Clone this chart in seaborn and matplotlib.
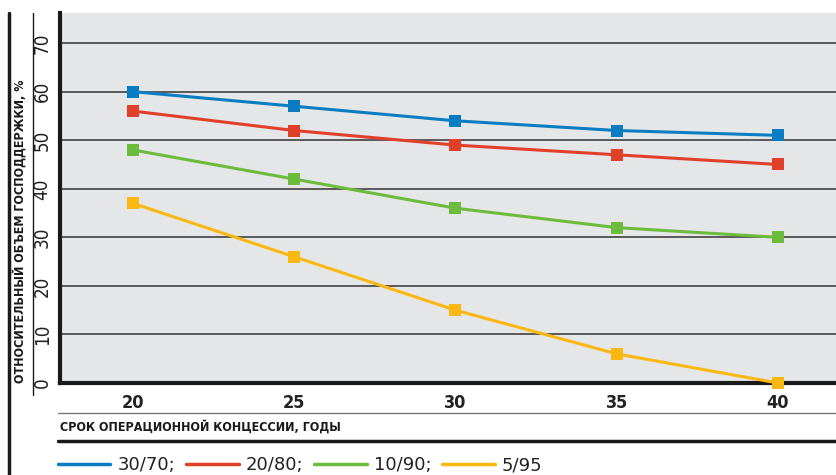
import pandas as pd
import matplotlib.pyplot as plt
import seaborn as sns
from matplotlib.lines import Line2D

# data
years = [20, 25, 30, 35, 40]
s_30_70 = [60, 57, 54, 52, 51]
s_20_80 = [56, 52, 49, 47, 45]
s_10_90 = [48, 42, 36, 32, 30]
s_5_95 = [37, 26, 15, 6, 0]
series_names = ['30/70', '20/80', '10/90', '5/95']
legend_labels = ['30/70;', '20/80;', '10/90;', '5/95']
colors = ['#0a7dc2', '#e0402a', '#6dbb3c', '#fbb812']

df = pd.DataFrame({
    'year': years * 4,
    'value': s_30_70 + s_20_80 + s_10_90 + s_5_95,
    'series': [n for n in series_names for _ in years],
})

sns.set_style('white')
plt.rcParams['font.family'] = ['DejaVu Sans']

W, H = 836, 475
fig = plt.figure(figsize=(W / 100, H / 100), dpi=100)
ax = fig.add_axes([60 / W, 1 - 383 / H, 1 - 60 / W, (383 - 13) / H])
ax.set_facecolor('#e5e6e8')

sns.lineplot(data=df, x='year', y='value', hue='series', palette=colors,
             marker='s', markersize=9, markeredgewidth=0, linewidth=2.2,
             ax=ax, legend=False, clip_on=False, zorder=3)

ax.set_xlim(17.74, 41.8)
ax.set_ylim(0, 76.2)
ax.set_xticks(years)
ax.set_yticks(range(0, 80, 10))
ax.grid(axis='y', color='#333333', linewidth=1.1)
ax.grid(axis='x', visible=False)
ax.tick_params(length=0)
ax.tick_params(axis='x', labelsize=13, pad=8)
ax.tick_params(axis='y', labelsize=13.5, pad=6)
for t in ax.get_xticklabels():
    t.set_fontweight('bold')
    t.set_fontstretch('condensed')
    t.set_color('#222222')
for t in ax.get_yticklabels():
    t.set_rotation(90)
    t.set_va('center')
    t.set_fontstretch('condensed')
    t.set_color('#222222')
ax.set_xlabel('')
ax.set_ylabel('')
for side in ['top', 'right']:
    ax.spines[side].set_visible(False)
ax.spines['left'].set_linewidth(3)
ax.spines['bottom'].set_linewidth(3)
ax.spines['left'].set_color('#1a1a1a')
ax.spines['bottom'].set_color('#1a1a1a')

# frame lines around the chart
def fline(x0, y0, x1, y1, lw, color='#1a1a1a'):
    fig.add_artist(Line2D([x0 / W, x1 / W], [1 - y0 / H, 1 - y1 / H],
                          lw=lw, color=color))

fline(9, 13, 9, 475, 2.5)
fline(33, 13, 33, 395, 1)
fline(58, 413, 836, 413, 1, '#777777')
fline(58, 441, 836, 441, 2.5)

fig.text(20 / W, 1 - 383 / H, 'ОТНОСИТЕЛЬНЫЙ ОБЪЕМ ГОСПОДДЕРЖКИ, %',
         rotation=90, ha='center', va='bottom', fontsize=9,
         fontweight='bold', fontstretch='condensed', color='#1a1a1a')
fig.text(60 / W, 1 - 427 / H, 'СРОК ОПЕРАЦИОННОЙ КОНЦЕССИИ, ГОДЫ',
         ha='left', va='center', fontsize=9, fontweight='bold',
         fontstretch='condensed', color='#1a1a1a')

handles = [Line2D([], [], color=c, lw=2.5) for c in colors]
fig.legend(handles, legend_labels, loc='center left',
           bbox_to_anchor=(58 / W, 1 - 465 / H), ncol=4, frameon=False,
           fontsize=13, handlelength=2.9, handletextpad=0.4,
           columnspacing=0.6, borderaxespad=0, borderpad=0,
           labelcolor='#222222')

fig.savefig('out.png', dpi=100)
